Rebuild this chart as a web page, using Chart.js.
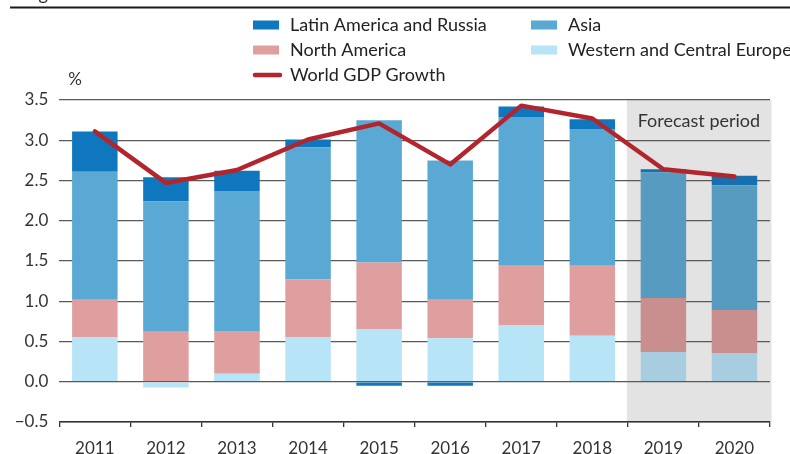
<!DOCTYPE html>
<html>
<head>
<meta charset="utf-8">
<script src="https://cdn.jsdelivr.net/npm/chart.js@4/dist/chart.umd.min.js"></script>
<style>
  html, body { margin: 0; padding: 0; background: #fff; }
  #wrap { width: 790px; height: 454px; position: relative; }
</style>
</head>
<body>
<div id="wrap"><canvas id="chart"></canvas></div>
<script>
// data (contributions to world GDP growth, %)
const years = ['2011', '2012', '2013', '2014', '2015', '2016', '2017', '2018', '2019', '2020'];
const europe = [0.55, -0.07, 0.10, 0.55, 0.65, 0.54, 0.70, 0.57, 0.37, 0.35];
const northAmerica = [0.47, 0.62, 0.53, 0.72, 0.83, 0.48, 0.74, 0.87, 0.67, 0.54];
const asia = [1.59, 1.62, 1.74, 1.64, 1.77, 1.73, 1.85, 1.70, 1.56, 1.55];
const latAmRussia = [0.50, 0.30, 0.25, 0.10, -0.05, -0.05, 0.13, 0.12, 0.04, 0.12];
const worldGdp = [3.11, 2.47, 2.63, 3.01, 3.21, 2.70, 3.43, 3.27, 2.64, 2.55];
const yTicks = [-0.5, 0, 0.5, 1, 1.5, 2, 2.5, 3, 3.5];
const forecastStart = 8; // index of 2019

const FONT = 'Lato, "Noto Sans", sans-serif';

// bars in the forecast period are shown behind a grey veil
function colorsFor(normal, forecast) {
    return years.map((y, i) => i >= forecastStart ? forecast : normal);
}

const colors = {
    latAm: '#0f77bd',
    asia: '#5aa9d4',
    na: '#e09f9f',
    europe: '#b7e4f6',
    gdp: '#b3252d'
};

const datasets = [
    { type: 'bar', label: 'Western and Central Europe', data: europe, backgroundColor: colorsFor(colors.europe, '#a8cde0'), stack: 'regions', order: 1 },
    { type: 'bar', label: 'North America', data: northAmerica, backgroundColor: colorsFor(colors.na, '#c98e8e'), stack: 'regions', order: 1 },
    { type: 'bar', label: 'Asia', data: asia, backgroundColor: colorsFor(colors.asia, '#579bc1'), stack: 'regions', order: 1 },
    { type: 'bar', label: 'Latin America and Russia', data: latAmRussia, backgroundColor: colorsFor(colors.latAm, '#1570ad'), stack: 'regions', order: 1 },
    { type: 'line', label: 'World GDP Growth', data: worldGdp, borderColor: colors.gdp, borderWidth: 4.5, pointRadius: 0, tension: 0, stack: 'gdp', order: 0, borderCapStyle: 'round', borderJoinStyle: 'round' }
];

// legend entries in the reference's two-column arrangement
const legendItems = [
    { label: 'Latin America and Russia', color: colors.latAm, x: 253, y: 25 },
    { label: 'Asia', color: colors.asia, x: 531, y: 25 },
    { label: 'North America', color: colors.na, x: 253, y: 50 },
    { label: 'Western and Central Europe', color: colors.europe, x: 531, y: 50 },
    { label: 'World GDP Growth', color: colors.gdp, x: 253, y: 75, line: true }
];

const decorPlugin = {
    id: 'decor',
    beforeDraw(chart) {
        const { ctx, chartArea: { top, bottom, right }, scales: { x } } = chart;
        ctx.save();
        // forecast shading
        const left = (x.getPixelForValue(forecastStart - 1) + x.getPixelForValue(forecastStart)) / 2 - 1;
        ctx.fillStyle = '#e3e3e3';
        ctx.fillRect(left, top, right + 1.5 - left, bottom - top);
        // rule at the top of the figure
        ctx.fillStyle = '#1a1a1a';
        ctx.fillRect(10, 6.5, 780, 2);
        ctx.font = '18px ' + FONT;
        ctx.fillStyle = '#222';
        ctx.textBaseline = 'alphabetic';
        ctx.fillText('Figure', 24, 0);
        ctx.restore();
    },
    afterDraw(chart) {
        const { ctx, chartArea: { top, right }, scales: { x } } = chart;
        ctx.save();
        ctx.textBaseline = 'middle';
        ctx.font = '18px ' + FONT;
        for (const item of legendItems) {
            if (item.line) {
                ctx.strokeStyle = item.color;
                ctx.lineWidth = 4.5;
                ctx.lineCap = 'round';
                ctx.beginPath();
                ctx.moveTo(item.x + 2, item.y);
                ctx.lineTo(item.x + 27, item.y);
                ctx.stroke();
            } else {
                ctx.fillStyle = item.color;
                ctx.fillRect(item.x, item.y - 4.5, 26, 9);
            }
            ctx.fillStyle = '#222';
            ctx.textAlign = 'left';
            ctx.fillText(item.label, item.x + 37, item.y);
        }
        // unit label
        ctx.fillStyle = '#333';
        ctx.textAlign = 'center';
        ctx.font = '17px ' + FONT;
        ctx.fillText('%', 75, 80);
        // forecast caption
        ctx.font = '18px ' + FONT;
        const left = (x.getPixelForValue(forecastStart - 1) + x.getPixelForValue(forecastStart)) / 2;
        ctx.fillText('Forecast period', (left + right) / 2, top + 21);
        ctx.restore();
    }
};

const ctx = document.getElementById('chart').getContext('2d');
new Chart(ctx, {
    data: { labels: years, datasets: datasets },
    options: {
        responsive: true,
        maintainAspectRatio: false,
        animation: false,
        layout: { padding: { top: 100, right: 20, bottom: 0, left: 0 } },
        datasets: { bar: { barPercentage: 0.64, categoryPercentage: 1 } },
        plugins: { legend: { display: false }, tooltip: { enabled: false } },
        scales: {
            x: {
                stacked: true,
                offset: true,
                grid: { offset: true, drawOnChartArea: false, tickLength: 5, color: '#333', lineWidth: 1.3 },
                border: { display: true, color: '#333', width: 1.5 },
                ticks: { color: '#333', font: { family: FONT, size: 17 }, padding: 11 },
                afterFit(scale) { scale.height = 32; }
            },
            y: {
                stacked: true,
                min: -0.5,
                max: 3.5,
                afterBuildTicks(scale) { scale.ticks = yTicks.map(v => ({ value: v })); },
                grid: { color: '#5a5a5a', lineWidth: 1.3, drawTicks: false },
                border: { display: false },
                ticks: {
                    color: '#333',
                    font: { family: FONT, size: 17 },
                    padding: 11,
                    callback: v => (v < 0 ? '\u2212' : '') + Math.abs(v).toFixed(1)
                },
                afterFit(scale) { scale.width = 59.3; }
            }
        }
    },
    plugins: [decorPlugin]
});
</script>
</body>
</html>
